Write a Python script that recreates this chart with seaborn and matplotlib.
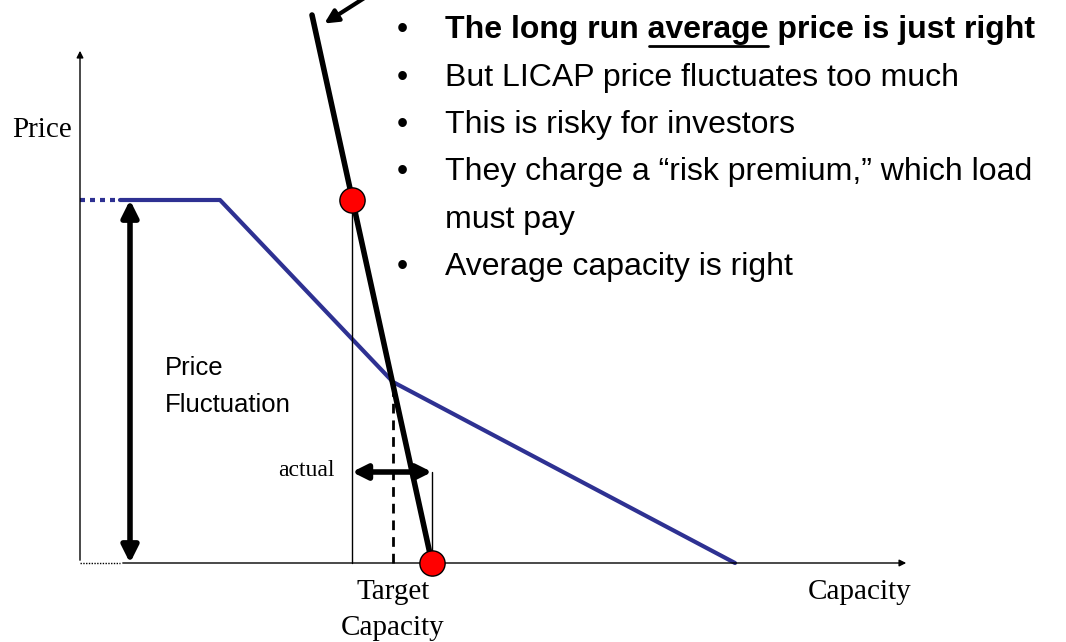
"""
LICAP price fluctuation diagram
"""

import matplotlib

matplotlib.use("Agg")
import matplotlib.pyplot as plt
import seaborn as sns
import pandas as pd

# Data ---------------------------------------------------------------------------------
# demand curve (capacity, price) in diagram units
demand_cap = [40, 140, 313, 655]
demand_price = [363, 363, 181, 0]
demand_dotted_cap = [0, 40]
demand_dotted_price = [363, 363]

# steep supply curve
supply_cap = [232, 352]
supply_price = [548, 0]

# red points on the supply curve
point_cap = [272, 352]
point_price = [363, 0]

target_cap = 313
actual_low = 272
actual_high = 352
actual_level = 91
fluct_x = 50

bullets = [
    "The long run average price is just right",
    "But LICAP price fluctuates too much",
    "This is risky for investors",
    "They charge a \u201crisk premium,\u201d which load",
    "must pay",
    "Average capacity is right",
]
has_bullet = [True, True, True, True, False, True]
underlined_word = "average"

# Figure -------------------------------------------------------------------------------
sns.set_theme(style="white")
plt.rcParams["text.color"] = "black"
fig = plt.figure(figsize=(10.66, 6.42), dpi=100)
ax = fig.add_axes([0, 0, 1, 1])
ax.set_xlim(-80, 986)
ax.set_ylim(-79, 563)
ax.axis("off")

serif = ["Liberation Serif", "DejaVu Serif"]
sans = ["Liberation Sans", "DejaVu Sans"]
blue = "#2e3192"

# Axes of the diagram
ax.annotate("", xy=(0, 515), xytext=(0, 0),
            arrowprops=dict(arrowstyle="-|>", lw=1.0, color="black", mutation_scale=10))
ax.annotate("", xy=(829, 0), xytext=(40, 0),
            arrowprops=dict(arrowstyle="-|>", lw=1.0, color="black", mutation_scale=10))
ax.plot([0, 40], [0, 0], color="black", lw=1.0, ls=(0, (1, 1)))

# Demand curve
sns.lineplot(x=demand_cap, y=demand_price, ax=ax, color=blue, lw=3, sort=False)
ax.plot(demand_dotted_cap, demand_dotted_price, color=blue, lw=3, ls=(0, (1.2, 1.2)))

# Guide lines
ax.plot([actual_low, actual_low], [0, point_price[0]], color="black", lw=1.0)
ax.plot([actual_high, actual_high], [0, actual_level], color="black", lw=1.0)
ax.plot([target_cap, target_cap], [0, demand_price[2]], color="black", lw=2,
        ls=(0, (3.5, 2.5)))

# Supply curve
sns.lineplot(x=supply_cap, y=supply_price, ax=ax, color="black", lw=4, sort=False)
pts = pd.DataFrame({"cap": point_cap, "price": point_price})
sns.scatterplot(data=pts, x="cap", y="price", ax=ax, s=330, color="red",
                edgecolor="black", linewidth=1.0, zorder=5)

# Arrow pointing at the supply curve
ax.annotate("", xy=(242, 538), xytext=(300, 575), annotation_clip=False,
            arrowprops=dict(arrowstyle="-|>", lw=3, color="black", mutation_scale=20))

# Price fluctuation arrow
ax.annotate("", xy=(fluct_x, 0), xytext=(fluct_x, demand_price[0]),
            arrowprops=dict(arrowstyle="<|-|>", lw=4, color="black", mutation_scale=25,
                            shrinkA=0, shrinkB=0))
ax.text(85, 195, "Price", fontsize=18.5, family=sans, va="center", ha="left")
ax.text(85, 158, "Fluctuation", fontsize=18.5, family=sans, va="center", ha="left")

# Actual arrow
ax.annotate("", xy=(actual_high, actual_level), xytext=(actual_low, actual_level),
            arrowprops=dict(arrowstyle="<|-|>", lw=4, color="black", mutation_scale=22,
                            shrinkA=0, shrinkB=0))
ax.text(255, 93, "actual", fontsize=17, family=serif, va="center", ha="right")

# Axis labels
ax.text(-8, 433, "Price", fontsize=21, family=serif, va="center", ha="right")
ax.text(728, -29, "Capacity", fontsize=21, family=serif, va="center", ha="left")
ax.text(target_cap, -29, "Target", fontsize=21, family=serif, va="center", ha="center")
ax.text(target_cap, -65, "Capacity", fontsize=21, family=serif, va="center", ha="center")

# Bullets
bullet_y = [533, 485, 438, 391, 343, 296]
bullet_x = 365
fs = 23
for i, (txt, y) in enumerate(zip(bullets, bullet_y)):
    if has_bullet[i]:
        ax.text(322, y, "\u2022", fontsize=fs, family=sans, va="center", ha="center")
    ax.text(bullet_x, y, txt, fontsize=fs, family=sans, va="center", ha="left",
            weight="bold" if i == 0 else "normal")

# Underline under the emphasised word in the first bullet
renderer = fig.canvas.get_renderer()
first = bullets[0]
pre = first[: first.index(underlined_word)]
inv = ax.transData.inverted()


def text_width(s):
    t = ax.text(bullet_x, bullet_y[0], s.replace(" ", "\u00a0"), fontsize=fs,
                family=sans, weight="bold")
    bb = t.get_window_extent(renderer)
    t.remove()
    return inv.transform((bb.x1, 0))[0] - inv.transform((bb.x0, 0))[0]


x0 = bullet_x + text_width(pre)
x1 = x0 + text_width(underlined_word)
ax.plot([x0 + 1, x1 - 1], [bullet_y[0] - 16, bullet_y[0] - 16], color="black", lw=2)

fig.savefig("out.png", dpi=100)
